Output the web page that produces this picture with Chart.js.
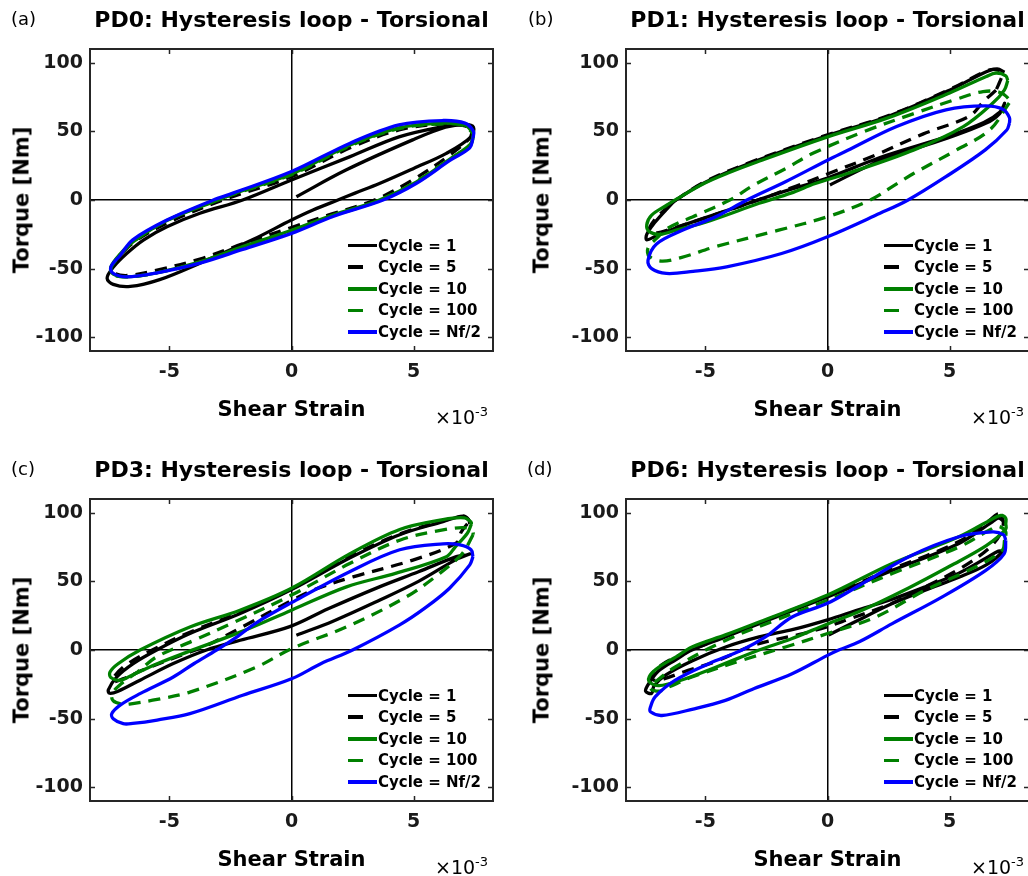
<!DOCTYPE html>
<html>
<head>
<meta charset="utf-8">
<title>Hysteresis loop - Torsional</title>
<script src="https://cdn.jsdelivr.net/npm/chart.js@4.4.1/dist/chart.umd.min.js"></script>
<style>
  html, body { margin: 0; padding: 0; background: #fff; }
  body { width: 1028px; height: 876px; overflow: hidden; position: relative; font-family: 'DejaVu Sans', sans-serif; color: #000; }
  canvas { position: absolute; }
  .txt { position: absolute; white-space: nowrap; line-height: 1; }
  .title { font-weight: bold; font-size: 22px; transform: translate(-50%, -50%); }
  .tag { font-size: 18px; transform: translateY(-50%); }
  .ylab { font-weight: bold; font-size: 21px; transform: translate(-50%, -50%) rotate(-90deg); }
  .xlab { font-weight: bold; font-size: 21px; transform: translate(-50%, -50%); }
  .mult { font-size: 19px; transform: translateY(-50%); }
  .mult sup { font-size: 13px; vertical-align: 0; position: relative; top: -8px; }
  .legend { position: absolute; font-weight: bold; font-size: 15px; }
  .legend .row { display: flex; align-items: center; height: 21.6px; }
  .legend .swatch { width: 29px; height: 3.5px; margin-right: 1px; }
</style>
</head>
<body>
<script>
// strain values are in units of 1e-3, torque in Nm
const strainTicks = [-5, 0, 5];
const torqueTicks = [-100, -50, 0, 50, 100];

const cycleNames = ['Cycle = 1', 'Cycle = 5', 'Cycle = 10', 'Cycle = 100', 'Cycle = Nf/2'];
const cycleColors = ['#000000', '#000000', '#008000', '#008000', '#0000ff'];
const cycleDashed = [false, true, false, true, false];

// PD0
const pd0Cycle1 = [[0.2,2.4],[2.25,22],[4.96,43.8],[6.3,53],[7.1,55],[7.45,53],[7.35,46],[6.34,34],[5.0,23],[3.6,12],[2.6,5],[1.9,0],[0.88,-7.3],[0,-14.6],[-1.6,-29],[-3.75,-46],[-5.4,-58],[-6.6,-63],[-7.3,-61.5],[-7.55,-57],[-7.3,-49],[-6.75,-39],[-6.05,-29],[-5.1,-19.5],[-3.75,-9.7],[-2,0],[0,14.6],[2.4,31.6],[4.4,46],[6.2,53.5],[7.0,55],[7.35,54]];
const pd0Cycle5 = [[7.4,50],[7.3,45],[6.5,33],[5.0,15],[3.4,0],[1.5,-11],[0,-20],[-2,-32],[-3.75,-43],[-5.5,-51],[-6.7,-55],[-7.3,-53],[-7.35,-48],[-7.0,-40],[-6.4,-30],[-5.0,-16],[-2.8,0],[0,17],[2.4,38],[4.4,51],[6.2,55.5],[7.1,54],[7.4,50]];
const pd0Cycle10 = [[7.45,48],[7.35,41],[6.5,30],[5.1,13],[3.6,0],[1.7,-11],[0,-22],[-2,-34],[-3.75,-45],[-5.5,-53],[-6.75,-56],[-7.3,-54],[-7.4,-49],[-7.05,-40],[-6.45,-30],[-5.1,-15],[-3.0,0],[-2.3,5],[0,19],[2.4,40],[4.4,52.5],[6.2,56],[7.1,54.5],[7.45,49]];
const pd0Cycle100 = [[7.45,47],[7.3,40],[6.5,30],[5.1,13.5],[3.65,0],[1.7,-11.5],[0,-22.5],[-2,-34.5],[-3.75,-45.5],[-5.5,-53],[-6.7,-56],[-7.3,-54.5],[-7.4,-50],[-7.05,-41],[-6.45,-30],[-5.1,-15],[-3.05,0],[0,18.5],[2.4,39.5],[4.4,52],[6.2,55.5],[7.1,54],[7.45,48]];
const pd0CycleNf2 = [[7.43,45],[7.3,38],[6.5,29],[5.1,12],[3.75,0],[1.7,-12],[0,-24.3],[-2,-36],[-3.75,-46],[-5.5,-53],[-6.75,-56],[-7.3,-53.5],[-7.4,-49],[-7.0,-40],[-6.5,-29],[-5.1,-14.6],[-3.2,0],[-2.4,5],[0,20.7],[2.4,41.4],[4.4,54.7],[6.2,57.9],[7.1,56],[7.45,50],[7.43,45]];

// PD1
const pd1Cycle1 = [[0.1,11],[2.2,29],[4.9,45],[6.5,56],[7.05,63],[7.25,70.5],[7.05,64],[6.4,56.5],[4.85,46],[2.15,31],[0,16],[-2,5],[-4,-7],[-6,-19],[-7.0,-26],[-7.4,-29],[-7.4,-25],[-7.1,-17],[-6.6,-7],[-6.2,0],[-5,13],[-3,28],[0,47],[2.5,61],[5,80],[6.5,93.5],[6.95,95.5],[7.25,93]];
const pd1Cycle5 = [[6.9,80],[6.4,72],[5.8,61],[3.9,48],[2,33],[0,19],[-1.3,10],[-3,-1],[-5,-13],[-6.4,-21],[-7.0,-24],[-7.3,-22],[-7.1,-15],[-6.6,-6],[-6.2,0],[-5,13.5],[-3,28.5],[0,47.5],[2.5,61.5],[5,80.5],[6.5,94],[6.9,95],[7.15,92],[7.05,86],[6.9,80]];
const pd1Cycle10 = [[7.38,87],[7.24,80],[6.77,70.6],[5.56,53.5],[3.54,36.5],[0.85,19.5],[-0.5,12],[-1.5,5],[-2.8,-2.4],[-4.8,-15],[-6.2,-22],[-6.85,-25],[-7.3,-23],[-7.4,-18],[-7.2,-11],[-6.6,-4],[-6.15,1],[-5,12.5],[-4.1,19.5],[-3,27],[0,46],[2.5,60],[5,78],[6.5,90],[6.9,92.5],[7.3,90.5],[7.38,87]];
const pd1Cycle100 = [[7.44,70.6],[6.64,51],[5.29,36.5],[3.54,19.5],[2.87,12.2],[1.75,0],[0,-12.2],[-2,-22],[-4.58,-34],[-6.0,-42],[-6.8,-44.5],[-7.3,-41],[-7.35,-35],[-7.0,-28],[-6.55,-20.7],[-5.35,-11],[-4.0,0],[-3.05,10.5],[-1.7,23],[-0.6,34],[1.52,50],[3.54,63],[5.29,73.5],[6.37,79],[7.04,78.5],[7.4,74],[7.44,70.6]];
const pd1CycleNf2 = [[7.45,56],[7.34,51],[6.46,36.5],[4.85,17],[3.3,0],[2.15,-9.7],[0,-26.8],[-1.88,-39],[-4.13,-48.7],[-5.5,-52],[-6.6,-53.5],[-7.2,-50],[-7.35,-44],[-7.0,-32],[-5.92,-21.9],[-4.58,-12.2],[-3.3,0],[-1.7,13.5],[0,29],[0.81,36],[2.83,53.5],[4.85,65.7],[6.46,68.6],[7.2,66],[7.45,60],[7.45,56]];

// PD3
const pd3Cycle1 = [[0.2,10.7],[1.7,21],[3.6,36.3],[5.2,50],[6.75,66],[7.3,70],[7.1,69],[6.75,68],[5.2,57],[3.6,46],[1.5,30],[-0.07,17],[-2.1,7.1],[-3.48,0],[-4.84,-9.9],[-6.2,-22],[-7.1,-30],[-7.45,-31.5],[-7.5,-29],[-7.16,-19.7],[-6.48,-9.9],[-5.52,0],[-4.16,12],[-2.1,26.6],[0,44],[2.38,67],[4.43,84],[6.2,93.5],[7.02,97.6],[7.25,95],[7.3,92]];
const pd3Cycle5 = [[7.2,92],[6.95,86],[6.75,78],[4.97,65.5],[2.52,53.3],[0.88,43.6],[0,36],[-2,17],[-3.5,3],[-4.4,-3],[-6,-14],[-6.9,-21],[-7.3,-23],[-7.2,-18],[-6.7,-10],[-5.7,0],[-4.16,13],[-2.1,27.5],[0,44.5],[2.38,68],[4.43,84.5],[6.2,94],[6.95,97],[7.25,95],[7.2,92]];
const pd3Cycle10 = [[7.36,91.5],[7.2,85],[6.7,75],[6.34,68],[4.29,56],[2.25,46],[0,29],[-2.1,13],[-4.2,-1],[-5.5,-10],[-6.5,-18],[-7.0,-22],[-7.4,-20],[-7.43,-16],[-7.1,-10],[-6.2,0],[-4.16,16.8],[-2.11,29],[0,45],[2.38,70],[4.43,87.8],[6.2,95],[7.08,96.3],[7.36,93],[7.36,91.5]];
const pd3Cycle100 = [[7.43,84],[7.15,74.4],[6.88,68],[6.07,55.8],[4.7,38.7],[2.25,16.8],[0,1],[-1.43,-12.4],[-4.16,-30.7],[-5.5,-36],[-6.5,-39],[-6.9,-39.5],[-7.3,-37],[-7.35,-32],[-7.0,-25],[-6.3,-16],[-5.52,-5],[-4,7],[-2.5,19],[0,40],[2.38,63],[4.43,80],[6.2,87.5],[7.15,89],[7.43,86],[7.43,84]];
const pd3CycleNf2 = [[7.43,68],[7.3,62],[6.47,45],[5.5,31],[4.43,18.3],[2.5,0],[1.2,-10],[0,-21],[-2,-33],[-4.16,-46.4],[-5.5,-51],[-6.5,-53.5],[-6.89,-53.7],[-7.3,-50],[-7.36,-46.4],[-7.0,-40],[-6.2,-31.8],[-4.84,-19.7],[-4.0,-10],[-3.07,0],[-2.2,10],[-1.43,20],[0,34.5],[2.38,57],[4.43,73],[6.2,77.3],[6.9,76.5],[7.35,73],[7.43,68]];

// PD6
const pd6Cycle1 = [[0.05,11],[1.3,22],[2.65,33.8],[4,43.5],[5.38,53],[6.5,62],[7.16,71.5],[7.0,72],[6.5,67],[5.38,56],[4,46],[2.65,37],[1.3,29.5],[0,22],[-1.4,15],[-2.8,9.5],[-4.2,2],[-5.55,-8],[-6.6,-18],[-7.1,-26],[-7.2,-31.5],[-7.45,-30],[-7.3,-24],[-6.9,-15],[-6.2,-7],[-5.55,0],[-4.18,9.5],[-2.8,19.2],[0,38.7],[2.65,58],[5.38,77.6],[6.75,93.4],[7.0,96],[7.2,94]];
const pd6Cycle5 = [[7.12,99],[7.2,93],[7.1,85],[6.6,74],[5.5,60],[4.0,46],[2.5,33],[0.8,22],[0,17],[-1,12],[-3.0,3.6],[-4.6,-8.5],[-5.9,-16],[-6.7,-21],[-7.1,-22],[-7.2,-18],[-6.8,-11],[-6.2,-5],[-5.5,0.5],[-4.18,10],[-2.8,19.7],[0,39.5],[2.65,59],[5.38,79],[6.6,94],[6.95,99],[7.12,99]];
const pd6Cycle10 = [[7.3,92],[7.3,88],[6.5,76],[5,61],[3.3,45],[1.3,28],[0,19],[-1.5,8],[-2.8,0],[-4.5,-12],[-6,-22],[-6.9,-26],[-7.3,-23],[-7.25,-18],[-6.9,-12.4],[-6.2,-5],[-5.55,2.2],[-4.18,11],[-2.8,20.4],[0,40],[2.65,63],[5.38,82.5],[6.75,95.5],[7.1,98],[7.3,96],[7.3,92]];
const pd6Cycle100 = [[7.25,80],[7.16,72.7],[6.07,60.6],[4.0,43.6],[1.97,24],[0,12],[-1.72,2.2],[-3.5,-7.5],[-5.55,-19.7],[-6.5,-27],[-6.9,-30],[-7.25,-28],[-7.05,-23.4],[-6.23,-12.4],[-4.18,7],[-2.13,21.7],[0,36.3],[2.65,55.7],[5.38,75],[6.6,87],[7.0,90],[7.3,86],[7.25,80]];
const pd6CycleNf2 = [[7.3,80],[7.23,70],[6.48,58],[4.7,38.7],[2.65,19.2],[1.3,6],[0.46,0],[0,-3.9],[-1.45,-17.3],[-3,-28],[-4.18,-36.7],[-5.5,-43],[-6.78,-47.7],[-7.25,-45],[-7.25,-41.6],[-7.05,-34],[-6.23,-22],[-4.86,-10],[-3.5,0],[-2.54,9.5],[-1.45,24],[0,34],[1.3,47],[3.33,68],[5.38,82.5],[6.75,86],[7.2,84],[7.3,80]];

const panels = [
    { id: 'pd0', tag: '(a)', title: 'PD0: Hysteresis loop - Torsional', loops: [pd0Cycle1, pd0Cycle5, pd0Cycle10, pd0Cycle100, pd0CycleNf2], boxLeft: 90, boxTop: 49, tagX: 11, yLabX: 22 },
    { id: 'pd1', tag: '(b)', title: 'PD1: Hysteresis loop - Torsional', loops: [pd1Cycle1, pd1Cycle5, pd1Cycle10, pd1Cycle100, pd1CycleNf2], boxLeft: 626, boxTop: 49, tagX: 528, yLabX: 542 },
    { id: 'pd3', tag: '(c)', title: 'PD3: Hysteresis loop - Torsional', loops: [pd3Cycle1, pd3Cycle5, pd3Cycle10, pd3Cycle100, pd3CycleNf2], boxLeft: 90, boxTop: 499, tagX: 11, yLabX: 22 },
    { id: 'pd6', tag: '(d)', title: 'PD6: Hysteresis loop - Torsional', loops: [pd6Cycle1, pd6Cycle5, pd6Cycle10, pd6Cycle100, pd6CycleNf2], boxLeft: 626, boxTop: 499, tagX: 527, yLabX: 542 }
];

const BOX_W = 403, BOX_H = 302;
const tickFont = { family: 'DejaVu Sans', size: 19, weight: 'bold' };

// box round the axes plus inward tick marks on all four sides
const axesBox = {
    id: 'axesBox',
    afterDraw(chart) {
        const { ctx, chartArea: a, scales: { x, y } } = chart;
        ctx.save();
        ctx.strokeStyle = '#262626';
        ctx.lineWidth = 1.5;
        ctx.beginPath();
        strainTicks.forEach(v => {
            const px = Math.round(x.getPixelForValue(v)) + 0.5;
            ctx.moveTo(px, a.top); ctx.lineTo(px, a.top + 5);
            ctx.moveTo(px, a.bottom); ctx.lineTo(px, a.bottom - 5);
        });
        torqueTicks.forEach(v => {
            const py = Math.round(y.getPixelForValue(v)) + 0.5;
            ctx.moveTo(a.left, py); ctx.lineTo(a.left + 5, py);
            ctx.moveTo(a.right, py); ctx.lineTo(a.right - 5, py);
        });
        ctx.stroke();
        ctx.lineWidth = 2;
        ctx.strokeRect(a.left, a.top, a.right - a.left, a.bottom - a.top);
        ctx.restore();
    }
};

function addText(cls, html, x, y) {
    const el = document.createElement('div');
    el.className = 'txt ' + cls;
    el.innerHTML = html;
    el.style.left = x + 'px';
    el.style.top = y + 'px';
    document.body.appendChild(el);
    return el;
}

function zeroLine(c) {
    return c.tick && c.tick.value === 0 ? '#000000' : 'rgba(0,0,0,0)';
}

panels.forEach(p => {
    const canvas = document.createElement('canvas');
    canvas.id = p.id;
    canvas.width = 530;
    canvas.height = 438;
    canvas.style.left = (p.boxLeft - 90) + 'px';
    canvas.style.top = (p.boxTop - 49) + 'px';
    document.body.appendChild(canvas);

    // later datasets sit on top, as in the original plot order
    const datasets = p.loops.map((loop, i) => ({
        label: cycleNames[i],
        data: loop.map(([x, y]) => ({ x, y })),
        showLine: true,
        borderColor: cycleColors[i],
        borderDash: cycleDashed[i] ? [12, 8] : [],
        borderWidth: 3.3,
        borderJoinStyle: 'round',
        pointRadius: 0,
        tension: 0.35,
        fill: false,
        order: cycleNames.length - i
    }));

    new Chart(canvas.getContext('2d'), {
        type: 'scatter',
        data: { datasets },
        options: {
            responsive: false,
            animation: false,
            events: [],
            layout: { padding: { left: 0, top: 49, right: 530 - 90 - BOX_W, bottom: 0 } },
            plugins: { legend: { display: false }, title: { display: false }, tooltip: { enabled: false } },
            scales: {
                x: {
                    type: 'linear', min: -8.25, max: 8.25,
                    afterBuildTicks: s => { s.ticks = strainTicks.map(v => ({ value: v })); },
                    afterFit: s => { s.height = 438 - 49 - BOX_H; },
                    grid: { color: zeroLine, lineWidth: 1.5, drawTicks: false },
                    border: { display: false },
                    ticks: { padding: 10, color: '#1a1a1a', font: tickFont, maxRotation: 0, autoSkip: false }
                },
                y: {
                    type: 'linear', min: -110, max: 110,
                    afterBuildTicks: s => { s.ticks = torqueTicks.map(v => ({ value: v })); },
                    afterFit: s => { s.width = 90; },
                    grid: { color: zeroLine, lineWidth: 1.5, drawTicks: false },
                    border: { display: false },
                    ticks: { padding: 7, color: '#1a1a1a', font: tickFont, autoSkip: false }
                }
            }
        },
        plugins: [axesBox]
    });

    const cx = p.boxLeft + BOX_W / 2;
    const bottom = p.boxTop + BOX_H;
    const right = p.boxLeft + BOX_W;
    addText('title', p.title, cx, p.boxTop - 29);
    addText('tag', p.tag, p.tagX, p.boxTop - 30);
    addText('ylab', 'Torque [Nm]', p.yLabX, p.boxTop + BOX_H / 2);
    addText('xlab', 'Shear Strain', cx, bottom + 58);
    addText('mult', '&times;10<sup>-3</sup>', right - 58, bottom + 66);

    const legend = document.createElement('div');
    legend.className = 'legend';
    legend.style.left = (right - 145) + 'px';
    legend.style.top = (bottom - 19 - 4 * 21.6 - 10.8) + 'px';
    cycleNames.forEach((name, i) => {
        const row = document.createElement('div');
        row.className = 'row';
        const sw = document.createElement('span');
        sw.className = 'swatch';
        sw.style.background = cycleDashed[i]
            ? `linear-gradient(to right, ${cycleColors[i]} 0 15px, transparent 15px)`
            : cycleColors[i];
        const label = document.createElement('span');
        label.textContent = name;
        row.appendChild(sw);
        row.appendChild(label);
        legend.appendChild(row);
    });
    document.body.appendChild(legend);
});
</script>
</body>
</html>
